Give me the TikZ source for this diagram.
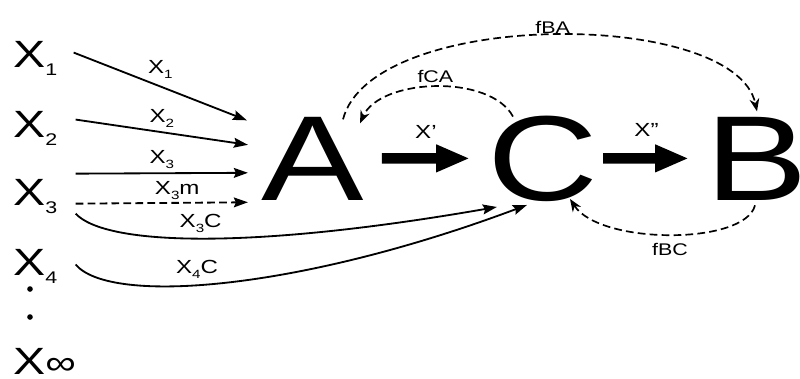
\documentclass[tikz,border=0pt]{standalone}
\usepackage{fontspec}
\setmainfont{Liberation Sans}[FakeStretch=1.27]
\usetikzlibrary{arrows.meta,calc,positioning}

\newcommand{\bigsub}[1]{\raisebox{-6pt}{\fontsize{12}{12}\selectfont #1}}
\newcommand{\lblsub}[1]{\raisebox{-3.5pt}{\fontsize{8.5}{9}\selectfont #1}}

\tikzset{
  var/.style={inner sep=0pt, anchor=base west, font=\fontsize{27}{30}\selectfont},
  big/.style={inner sep=0pt, anchor=base, font=\fontsize{86}{90}\selectfont},
  lbl/.style={inner sep=0pt, font=\fontsize{13.5}{15}\selectfont},
  flbl/.style={inner sep=0pt, font=\fontsize{12}{14}\selectfont},
  flow/.style={line width=1.3pt, -{Stealth[length=10pt,width=7pt,inset=1.5pt]}},
  feed/.style={line width=1.2pt, dash pattern=on 5.5pt off 3pt, -{Stealth[length=9pt,width=7pt]}},
  main/.style={line width=7.5pt, -{Triangle[length=24pt,width=18pt]}},
  dot/.style={circle, fill, inner sep=0pt, minimum size=4pt}
}

\begin{document}
\begin{tikzpicture}[x=0.025cm, y=-0.025cm]
		\useasboundingbox (0,0) rectangle (800,378);
		\node[var] (x_1) at (13,67) {X\bigsub{1}};
		\node[var] (x_2) at (13,137) {X\bigsub{2}};
		\node[var] (x_3) at (13,205) {X\bigsub{3}};
		\node[var] (x_4) at (13,275) {X\bigsub{4}};
		\node[var] (x_inf) at (13,374) {X{\fontsize{24}{24}\selectfont ∞}};
		\node[dot] (d_1) at (30,289) {};
		\node[dot] (d_2) at (30,317) {};
		\node[big] (A) at (313,200) {A};
		\node[big] (C) at (543,200) {C};
		\node[big] (B) at (757,200) {B};

		\draw[flow] ([shift={(16,-5.6)}]x_1.east) -- node[lbl, above=5pt] {X\lblsub{1}} ([shift={(-14.6,3.8)}]A.north west);
		\draw[flow] ([shift={(18,-8.6)}]x_2.east) -- node[lbl, above=2.8pt] {X\lblsub{2}} ([shift={(-13.6,-13.6)}]A.west);
		\draw[flow] ([shift={(18,-22.6)}]x_3.east) -- node[lbl, above=2.8pt] {X\lblsub{3}} ([shift={(-13.6,14.4)}]A.west);
		\draw[flow, dash pattern=on 5.5pt off 3pt] ([shift={(18,7.4)}]x_3.east) -- node[lbl, pos=.59, above=1.8pt] {X\lblsub{3}m} ([shift={(-13.6,2)}]A.south west);
		\draw[flow] ([shift={(18,17.4)}]x_3.east) .. controls +(30,32) and +(-247,43) .. ([shift={(9.6,5.5)}]C.south west)
			node[lbl, pos=.49, above=3.5pt] {X\lblsub{3}C};
		\draw[flow] ([shift={(18,-1.6)}]x_4.east) .. controls +(35,41) and +(-227,85) .. ([shift={(-16,3.5)}]C.south)
			node[lbl, pos=.43, above=4pt] {X\lblsub{4}C};

		\draw[main, shorten <=12.3pt, shorten >=12.3pt] (A.east) -- node[lbl, above=10.6pt] {X'} (C.west);
		\draw[main, shorten <=3.1pt, shorten >=11.8pt] (C.east) -- node[lbl, above=11.8pt, xshift=-4pt] {X''} (B.west);

		\draw[feed] ([shift={(30,2.8)}]A.north) .. controls +(29,-111) and +(-22,-103) .. ([shift={(0,-5.2)}]B.north)
			node[flbl, pos=.5, above=0.5pt] {fBA};
		\draw[feed] ([shift={(-30,1.3)}]C.north) .. controls +(-23,-43) and +(20,-45) .. ([shift={(47,6.8)}]A.north)
			node[flbl, pos=.5, above=2.5pt] {fCA};
		\draw[feed] ([shift={(-2,5)}]B.south) .. controls +(-10,40) and +(30,46) .. ([shift={(27,-2.5)}]C.south)
			node[flbl, pos=.5, below=5.6pt] {fBC};
	\end{tikzpicture}
\end{document}
